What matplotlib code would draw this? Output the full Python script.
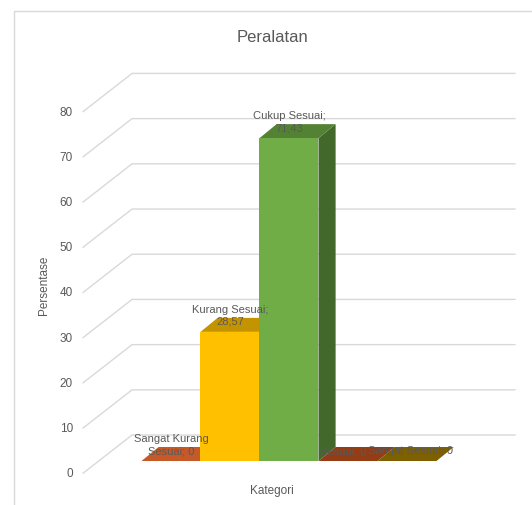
import matplotlib.pyplot as plt
from matplotlib.patches import Polygon, Rectangle

categories = ["Sangat Kurang Sesuai", "Kurang Sesuai", "Cukup Sesuai", "Sesuai", "Sangat Sesuai"]
values = [0, 28.57, 71.43, 0, 0]
value_labels = ["0", "28,57", "71,43", "0", "0"]
yticks = [0, 10, 20, 30, 40, 50, 60, 70, 80]

front_colors = ["#ED7D31", "#FFC000", "#70AD47", "#C5501A", "#A07C00"]
top_colors = ["#C55A28", "#C49400", "#548235", "#943C14", "#7F6000"]
side_colors = ["#A84A1A", "#A07800", "#43682B", "#7A3010", "#6A5000"]

plt.rcParams['font.family'] = ['Liberation Sans', 'DejaVu Sans']
text_color = "#595959"
grid_color = "#D9D9D9"

fig = plt.figure(figsize=(5.32, 5.06), dpi=100)
# axes placed so that one category = 59 px and one percent = 4.52 px
ax = fig.add_axes([60 / 532, 26 / 506, 460 / 532, 420 / 506])
ax.set_xlim(-1.881, 5.915)
ax.set_ylim(-3.98, 88.94)
ax.axis("off")

# chart frame
fig.patches.append(Rectangle((14 / 532, -0.1), 1.2, 1 - 12 / 506 + 0.1,
                             transform=fig.transFigure, fill=False,
                             edgecolor=grid_color, lw=1))

# 3d geometry (data units)
wall_dx, wall_dy = -0.66, 5.75     # back wall corner offset
front_dx, front_dy = -1.49, -2.7   # front-left end of gridlines
right_x = 5.83
ddx, ddy = 0.29, 3.1               # bar depth

for t in yticks:
    ax.plot([front_dx, wall_dx, right_x], [t + front_dy, t + wall_dy, t + wall_dy],
            color=grid_color, lw=1, zorder=1)
    ax.text(-1.66, t + front_dy, str(t), ha="right", va="center",
            fontsize=8.5, color=text_color)

# draw left to right so each bar hides the side of the one before it
for i, v in enumerate(values):
    z = 2 + i
    ax.bar(i, v, width=1, color=front_colors[i], zorder=z + 0.2)
    top = [(i - 0.5, v), (i + 0.5, v), (i + 0.5 + ddx, v + ddy), (i - 0.5 + ddx, v + ddy)]
    ax.add_patch(Polygon(top, closed=True, color=top_colors[i], zorder=z + 0.1, lw=0))
    if v > 0:
        side = [(i + 0.5, 0), (i + 0.5, v), (i + 0.5 + ddx, v + ddy), (i + 0.5 + ddx, ddy)]
        ax.add_patch(Polygon(side, closed=True, color=side_colors[i], zorder=z, lw=0))

# data labels
label_texts = ["Sangat Kurang\nSesuai; 0", "Kurang Sesuai;\n28,57", "Cukup Sesuai;\n71,43",
               "Sesuai; 0", "Sangat Sesuai; 0"]
label_shift = [0, 0, 0, -0.08, 0.06]
for i, v in enumerate(values):
    ax.text(i + label_shift[i], v + 1.3, label_texts[i], ha="center", va="bottom",
            fontsize=8, color=text_color, zorder=20, linespacing=1.25)

fig.text(272 / 532, 1 - 38 / 506, "Peralatan", ha="center", va="center",
         fontsize=12, color=text_color)
fig.text(44 / 532, 1 - 285 / 506, "Persentase", ha="center", va="center",
         rotation=90, fontsize=8.5, color=text_color)
fig.text(272 / 532, 1 - 491 / 506, "Kategori", ha="center", va="center",
         fontsize=8.5, color=text_color)

fig.savefig("out.png", dpi=100)
